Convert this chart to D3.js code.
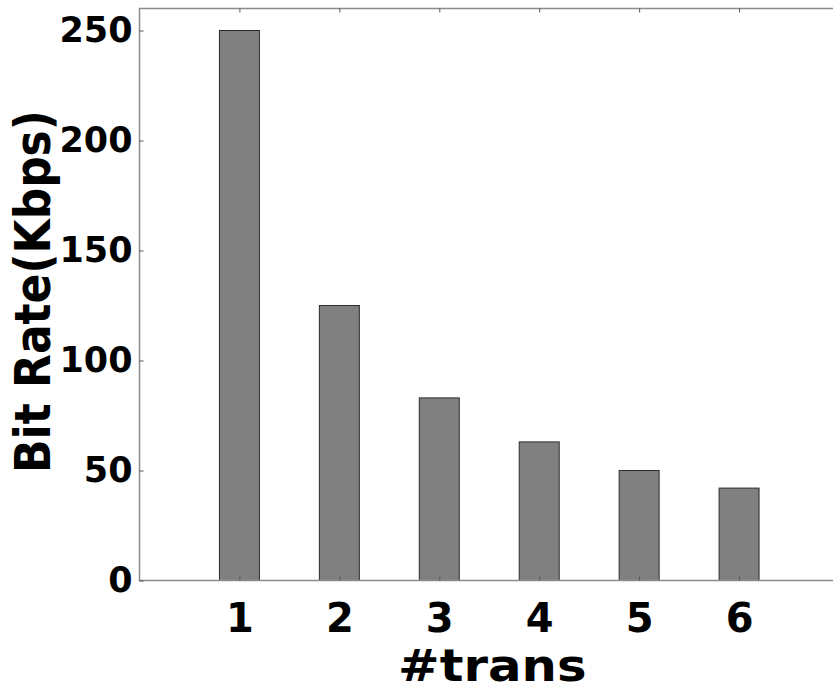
<!DOCTYPE html>
<html>
<head>
<meta charset="utf-8">
<script src="https://cdn.jsdelivr.net/npm/d3@7"></script>
<style>
body { margin: 0; background: #fff; }
svg { display: block; }
text { font-family: "DejaVu Sans", sans-serif; font-weight: bold; fill: #000; }
</style>
</head>
<body>
<div class="chart"></div>
<script>
const width = 833
const height = 685

const margin = { top: 8.5, right: -6, bottom: 104.5, left: 139.5 }

// axis titles look a bit wider than tall
const stretchX = 1.13

// values
const categories = [1, 2, 3, 4, 5, 6]
const bitRates = [250, 125, 83, 63, 50, 42]
const yTicks = [0, 50, 100, 150, 200, 250]

const plotW = width - margin.left - margin.right
const plotH = height - margin.top - margin.bottom

const svg = d3.select('.chart')
    .append('svg')
    .attr('width', width)
    .attr('height', height)

const x = d3.scaleLinear()
    .domain([0, 7])
    .range([0, plotW])

const y = d3.scaleLinear()
    .domain([0, 260])
    .range([plotH, 0])

const g = svg.append('g')
    .attr('transform', `translate(${margin.left},${margin.top})`)

const barW = x(0.4) - x(0)

g.selectAll('rect.bar')
    .data(categories)
    .enter()
    .append('rect')
    .attr('class', 'bar')
    .attr('x', (d, i) => x(d) - barW / 2)
    .attr('y', (d, i) => y(bitRates[i]))
    .attr('width', barW)
    .attr('height', (d, i) => y(0) - y(bitRates[i]))
    .attr('fill', '#808080')
    .attr('stroke', '#2b2b2b')
    .attr('stroke-width', 1)

// frame
g.append('rect')
    .attr('x', 0)
    .attr('y', 0)
    .attr('width', plotW)
    .attr('height', plotH)
    .attr('fill', 'none')
    .attr('stroke', '#8c8c8c')
    .attr('stroke-width', 1.5)

const styleAxis = (sel, size) => {
    sel.select('.domain').remove()
    sel.selectAll('.tick line').attr('stroke', '#555')
    sel.selectAll('.tick text')
        .style('font-size', size + 'px')
        .attr('fill', '#000')
}

// bottom axis, ticks pointing in
g.append('g')
    .attr('transform', `translate(0,${plotH})`)
    .call(d3.axisBottom(x)
        .tickValues(categories)
        .tickSize(-4)
        .tickPadding(23)
        .tickFormat(d3.format('d')))
    .call(styleAxis, 40)

// top ticks
g.append('g')
    .call(d3.axisTop(x)
        .tickValues(categories)
        .tickSize(-4)
        .tickFormat(''))
    .call(styleAxis, 40)

// left axis
g.append('g')
    .call(d3.axisLeft(y)
        .tickValues(yTicks)
        .tickSize(-4)
        .tickPadding(7))
    .call(styleAxis, 35)

svg.append('text')
    .attr('transform', `translate(${margin.left + x(3.53)},681) scale(${stretchX},1)`)
    .attr('text-anchor', 'middle')
    .style('font-size', '44px')
    .text('#trans')

svg.append('text')
    .attr('transform', `translate(50,291.5) scale(${stretchX},1) rotate(-90)`)
    .attr('text-anchor', 'middle')
    .style('font-size', '44px')
    .text('Bit Rate(Kbps)')
</script>
</body>
</html>
